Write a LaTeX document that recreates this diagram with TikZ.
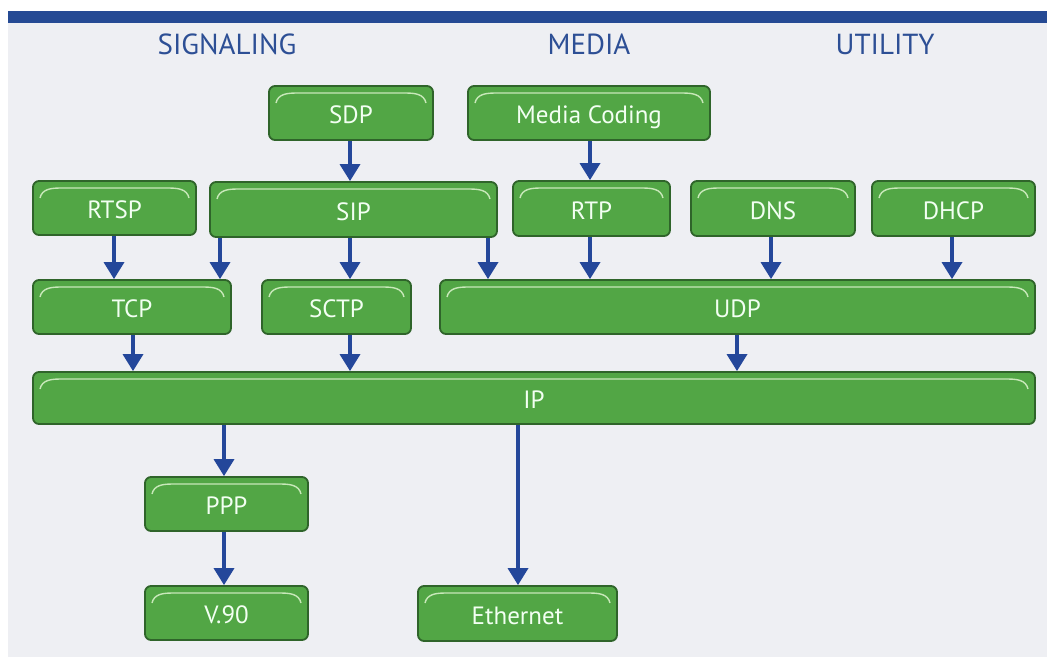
\documentclass[tikz,border=0pt]{standalone}
\usepackage{fontspec}
\setmainfont{PT Sans}
\usetikzlibrary{arrows.meta}
\definecolor{pagebg}{RGB}{238,239,243}
\definecolor{barblue}{RGB}{37,74,148}
\definecolor{headblue}{RGB}{45,79,149}
\definecolor{boxgreen}{RGB}{82,166,69}
\definecolor{boxedge}{RGB}{47,100,42}
\definecolor{shine}{RGB}{200,232,185}
\definecolor{arrowblue}{RGB}{36,71,154}
\tikzset{
  blk/.style={draw=boxedge, line width=1.8pt, fill=boxgreen, rounded corners=6pt,
    text=white!95!green, font=\fontsize{25}{27}\selectfont, inner sep=0pt,
    text height=21pt, text depth=0pt,
    path picture={
      \draw[shine, line width=1.4pt]
        ([xshift=7pt,yshift=-17pt]path picture bounding box.north west)
        .. controls ([xshift=9pt,yshift=-8pt]path picture bounding box.north west)
                and ([xshift=18pt,yshift=-7pt]path picture bounding box.north west)
        .. ([xshift=34pt,yshift=-7pt]path picture bounding box.north west)
        -- ([xshift=-34pt,yshift=-7pt]path picture bounding box.north east)
        .. controls ([xshift=-18pt,yshift=-7pt]path picture bounding box.north east)
                and ([xshift=-9pt,yshift=-8pt]path picture bounding box.north east)
        .. ([xshift=-7pt,yshift=-17pt]path picture bounding box.north east);
    }},
  arr/.style={draw=arrowblue, line width=3.5pt,
    -{Triangle[width=20pt,length=17pt]}},
  head/.style={text=headblue, font=\fontsize{29}{32}\selectfont}
}
\begin{document}
\begin{tikzpicture}[x=1pt,y=-1pt]
  % page, background panel and top rule
  \useasboundingbox (0,0) rectangle (1047,657);
  \fill[white] (0,0) rectangle (1047,657);
  \fill[pagebg] (8,22) rectangle (1047,657);
  \fill[barblue] (8,11) rectangle (1047,23);

  % column headings
  \node[head] (hsig) at (227,44) {SIGNALING};
  \node[head] (hmed) at (589,44) {MEDIA};
  \node[head] (huti) at (885,44) {UTILITY};

  % protocol blocks
  \node[blk, minimum width=164pt, minimum height=54pt] (sdp)  at (351,113)   {SDP};
  \node[blk, minimum width=242pt, minimum height=54pt] (mc)   at (589,113)   {Media Coding};
  \node[blk, minimum width=163pt, minimum height=54pt] (rtsp) at (114.5,208) {RTSP};
  \node[blk, minimum width=287pt, minimum height=55pt] (sip)  at (353.5,209.5) {SIP};
  \node[blk, minimum width=157pt, minimum height=55pt] (rtp)  at (591.5,208.5) {RTP};
  \node[blk, minimum width=164pt, minimum height=55pt] (dns)  at (773,208.5) {DNS};
  \node[blk, minimum width=163pt, minimum height=55pt] (dhcp) at (953.5,208.5) {DHCP};
  \node[blk, minimum width=198pt, minimum height=54pt] (tcp)  at (132,307)   {TCP};
  \node[blk, minimum width=149pt, minimum height=54pt] (sctp) at (336.5,307) {SCTP};
  \node[blk, minimum width=595pt, minimum height=54pt] (udp)  at (737.5,307) {UDP};
  \node[blk, minimum width=1002pt, minimum height=52pt] (ip)  at (534,398)   {IP};
  \node[blk, minimum width=163pt, minimum height=54pt] (ppp)  at (226.5,504) {PPP};
  \node[blk, minimum width=163pt, minimum height=54pt] (v90)  at (226.5,613) {V.90};
  \node[blk, minimum width=199pt, minimum height=55pt] (eth)  at (517.5,613.5) {Ethernet};

  % dependencies
  \draw[arr] (sdp.south -| 350,0)  -- (sip.north -| 350,0);
  \draw[arr] (mc.south -| 590,0)   -- (rtp.north -| 590,0);
  \draw[arr] (rtsp.south -| 114,0) -- (tcp.north -| 114,0);
  \draw[arr] (sip.south -| 220,0)  -- (tcp.north -| 220,0);
  \draw[arr] (sip.south -| 350,0)  -- (sctp.north -| 350,0);
  \draw[arr] (sip.south -| 488,0)  -- (udp.north -| 488,0);
  \draw[arr] (rtp.south -| 590,0)  -- (udp.north -| 590,0);
  \draw[arr] (dns.south -| 771,0)  -- (udp.north -| 771,0);
  \draw[arr] (dhcp.south -| 952,0) -- (udp.north -| 952,0);
  \draw[arr] (tcp.south -| 133,0)  -- (ip.north -| 133,0);
  \draw[arr] (sctp.south -| 350,0) -- (ip.north -| 350,0);
  \draw[arr] (udp.south -| 737,0)  -- (ip.north -| 737,0);
  \draw[arr] (ip.south -| 224,0)   -- (ppp.north -| 224,0);
  \draw[arr] (ppp.south -| 224,0)  -- (v90.north -| 224,0);
  \draw[arr] (ip.south -| 518,0)   -- (eth.north -| 518,0);
\end{tikzpicture}
\end{document}
